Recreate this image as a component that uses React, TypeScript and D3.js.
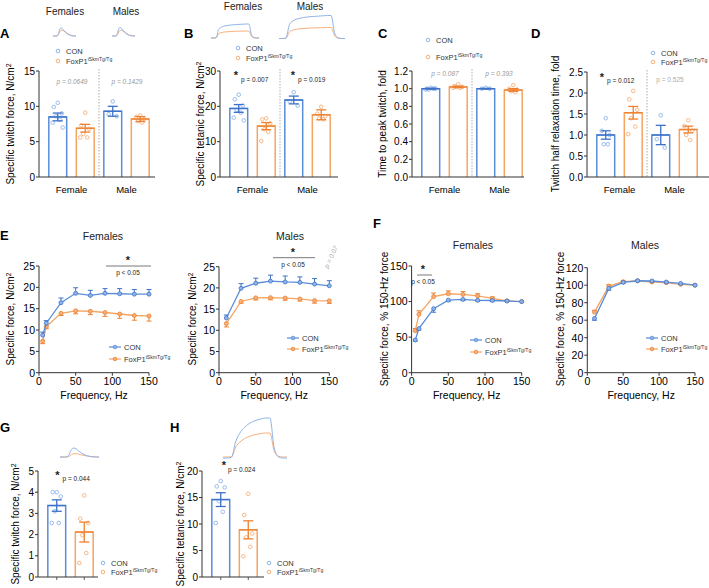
import React from "react";
import * as d3 from "d3";

const FONT = "'Liberation Sans', Arial, sans-serif";
const BLUE = "#5a8dd8";
const BLUE_DARK = "#3d72c8";
const BLUE_LIGHT = "#8fb4ea";
const ORANGE = "#f5a462";
const ORANGE_DARK = "#ee8030";
const ORANGE_LIGHT = "#f6b07a";

// ---------- bar data (order: Female CON, Female FoxP1, Male CON, Male FoxP1)
const groupLabels = ["Female", "Male"];

const aMeans = [8.5, 6.9, 9.3, 8.2];
const aSems = [0.55, 0.55, 0.7, 0.35];
const aPts = [[10.5, 9.9, 9.0, 8.6, 8.1, 7.7, 7.0], [9.1, 7.3, 6.8, 6.1, 5.6, 5.6], [10.7, 8.9, 8.6], [8.7, 8.5, 8.2, 7.9, 7.7]];
const aTicks = [0, 5, 10, 15];

const bMeans = [19.4, 14.4, 21.8, 17.6];
const bSems = [1.1, 1.0, 1.1, 1.4];
const bPts = [[23.3, 22.0, 20.2, 19.0, 18.2, 16.8, 16.0], [16.6, 16.3, 15.2, 13.5, 12.8, 10.2], [24.0, 21.4, 20.2], [19.9, 17.9, 17.2, 16.6, 16.3]];
const bTicks = [0, 10, 20, 30];

const cMeans = [1.0, 1.02, 1.0, 0.985];
const cSems = [0.005, 0.008, 0.004, 0.015];
const cPts = [[1.01, 1.0, 1.0, 0.99, 1.0, 0.99, 1.0], [1.05, 1.03, 1.02, 1.02, 1.01, 1.01], [1.01, 1.0, 1.0], [1.04, 1.0, 0.99, 0.97, 0.96]];
const cTicks = [0, 0.2, 0.4, 0.6, 0.8, 1.0, 1.2];

const dMeans = [1.0, 1.53, 1.0, 1.13];
const dSems = [0.1, 0.15, 0.23, 0.08];
const dPts = [[1.4, 1.1, 1.0, 0.78, 0.78], [2.05, 1.85, 1.6, 1.4, 1.2, 1.02], [1.47, 0.9, 0.7], [1.35, 1.21, 1.1, 1.0, 0.88]];
const dTicks = [0, 0.5, 1.0, 1.5, 2.0, 2.5];

const gMeans = [3.37, 2.12];
const gSems = [0.27, 0.47];
const gPts = [[4.0, 4.0, 3.8, 3.1, 2.55, 2.55], [3.85, 2.75, 2.55, 1.97, 1.13, 0.66]];
const gTicks = [0, 1, 2, 3, 4, 5];

const hMeans = [14.6, 8.9];
const hSems = [1.3, 1.7];
const hPts = [[18.1, 17.1, 16.9, 14.3, 12.3, 10.2], [15.7, 11.7, 8.2, 7.5, 5.7, 3.9]];
const hTicks = [0, 5, 10, 15, 20];

// ---------- force-frequency data
const freqF = [5, 10, 30, 50, 70, 90, 110, 130, 150];
const freqM = [10, 30, 50, 70, 90, 110, 130, 150];

const eFemCon = [8.8, 11.6, 16.4, 18.6, 18.1, 18.6, 18.5, 18.4, 18.4];
const eFemConErr = [0.7, 0.6, 1.1, 1.3, 1.2, 1.1, 1.2, 1.1, 1.1];
const eFemFox = [7.4, 10.8, 13.9, 14.5, 14.4, 14.1, 13.75, 13.4, 13.3];
const eFemFoxErr = [0.6, 0.5, 0.5, 0.7, 0.8, 0.9, 1.0, 1.1, 1.2];
const eMalCon = [12.9, 19.9, 21.1, 21.6, 21.4, 21.3, 20.9, 20.5];
const eMalConErr = [0.7, 1.1, 1.2, 1.4, 1.4, 1.3, 1.3, 1.2];
const eMalFox = [11.6, 16.8, 17.65, 17.7, 17.6, 17.4, 17.0, 16.95];
const eMalFoxErr = [0.8, 0.4, 0.5, 0.5, 0.5, 0.5, 0.6, 0.6];
const eTicks = [0, 5, 10, 15, 20, 25];

const fFemCon = [46, 62, 90, 102, 103, 101.7, 101.5, 100.8, 100];
const fFemConErr = [1.5, 2, 5, 1.5, 1.5, 1, 1, 0.5, 0];
const fFemFox = [59, 82, 107, 111, 110, 108, 104.5, 101, 100];
const fFemFoxErr = [3, 5, 5, 4, 4, 3, 2, 1, 0];
const fMalCon = [62, 96.4, 103.2, 105.1, 104.8, 103.6, 102, 100];
const fMalConErr = [2, 2, 1, 1, 1, 1, 1, 0];
const fMalFox = [69.3, 99, 104, 105, 103.6, 102.9, 101, 100];
const fMalFoxErr = [2, 1.5, 1, 1, 1, 1, 1, 0];
const fTicksF = [0, 50, 100, 150];
const fTicksM = [0, 20, 40, 60, 80, 100, 120];
const freqTicks = [0, 50, 100, 150];

// ---------- representative traces (normalised)
const twitchCon = [0, 0, 0, 0, 0.3, 0.85, 1, 0.9, 0.7, 0.5, 0.35, 0.22, 0.13, 0.07, 0.03, 0.01, 0, 0];
const twitchFox = [0, 0, 0, 0, 0.2, 0.6, 0.8, 0.82, 0.72, 0.58, 0.45, 0.33, 0.22, 0.13, 0.07, 0.03, 0.01, 0];
const tetanic = [0, 0, 0.02, 0.6, 0.76, 0.84, 0.88, 0.91, 0.93, 0.95, 0.96, 0.97, 0.98, 0.99, 1.0, 1.0, 0.25, 0.03, 0, 0];
const tetanicH = [0, 0, 0.02, 0.42, 0.63, 0.76, 0.85, 0.91, 0.95, 0.98, 1.0, 1.0, 0.25, 0.03, 0, 0];

const jitter = [0, -4, 4, -2, 2, -5, 5];

function Trace({ x0, x1, base, shape, amp, color }: any) {
  const x = d3.scaleLinear().domain([0, shape.length - 1]).range([x0, x1]);
  const line = d3.line<number>().x((_, i) => x(i)).y((d) => base - d * amp).curve(d3.curveMonotoneX);
  return <path d={line(shape) || ""} fill="none" stroke={color} strokeWidth={1} />;
}

function YLabel({ x, y, children, size = 10 }: any) {
  return (
    <text transform={`translate(${x},${y}) rotate(-90)`} textAnchor="middle" dy="0.35em" fontSize={size} fontFamily={FONT}>
      {children}
    </text>
  );
}

function Fox({ x, y, size = 7.5, anchor = "start" }: any) {
  return (
    <text x={x} y={y} fontSize={size} fontFamily={FONT} textAnchor={anchor} fill="#333">
      FoxP1<tspan fontSize={size * 0.68} dy={-size * 0.4}>iSkmTg/Tg</tspan>
    </text>
  );
}

function BarLegend({ x, y1, y2 }: any) {
  return (
    <g>
      <circle cx={x} cy={y1} r={1.8} fill="none" stroke={BLUE_LIGHT} strokeWidth={1} />
      <text x={x + 8} y={y1 + 2.6} fontSize={7.5} fontFamily={FONT} fill="#333">CON</text>
      <circle cx={x} cy={y2} r={1.8} fill="none" stroke={ORANGE_LIGHT} strokeWidth={1} />
      <Fox x={x + 8} y={y2 + 2.6} />
    </g>
  );
}

function LineLegend({ x, y1, y2 }: any) {
  return (
    <g>
      <line x1={x - 6} x2={x + 6} y1={y1} y2={y1} stroke={BLUE} strokeWidth={1.2} />
      <circle cx={x} cy={y1} r={1.8} fill={BLUE_LIGHT} stroke={BLUE} strokeWidth={0.8} />
      <text x={x + 9} y={y1 + 2.6} fontSize={7.5} fontFamily={FONT} fill="#333">CON</text>
      <line x1={x - 6} x2={x + 6} y1={y2} y2={y2} stroke={ORANGE} strokeWidth={1.2} />
      <circle cx={x} cy={y2} r={1.8} fill={ORANGE_LIGHT} stroke={ORANGE_DARK} strokeWidth={0.8} />
      <Fox x={x + 9} y={y2 + 2.6} />
    </g>
  );
}

function BarPanel({ ax, yTop, yBot, max, ticks, fmt, means, sems, pts, xEnd, showGroups, barTicks }: any) {
  const y = d3.scaleLinear().domain([0, max]).range([yBot, yTop]);
  const nGroups = means.length / 2;
  const outer = d3.scaleBand<number>().domain(d3.range(nGroups)).range([ax + 5, ax + 5 + 55 * nGroups]);
  const inner = d3.scaleBand<number>().domain([0, 1]).range([0, outer.bandwidth()]).paddingInner(0.35).paddingOuter(0.175);
  const bw = inner.bandwidth();
  const f = d3.format(fmt);
  return (
    <g fontFamily={FONT}>
      {means.map((m: number, i: number) => {
        const g = Math.floor(i / 2);
        const k = i % 2;
        const x0 = (outer(g) as number) + (inner(k) as number);
        const cx = x0 + bw / 2;
        const col = k === 0 ? BLUE : ORANGE;
        const dark = k === 0 ? BLUE_DARK : ORANGE_DARK;
        const light = k === 0 ? BLUE_LIGHT : ORANGE_LIGHT;
        return (
          <g key={i}>
            <path d={`M${x0},${yBot}V${y(m)}H${x0 + bw}V${yBot}`} fill="none" stroke={col} strokeWidth={1.5} />
            {pts[i].map((p: number, j: number) => (
              <circle key={j} cx={cx + jitter[j % jitter.length]} cy={y(p)} r={1.8} fill="none" stroke={light} strokeWidth={0.9} />
            ))}
            <line x1={cx} x2={cx} y1={y(m - sems[i])} y2={y(m + sems[i])} stroke={dark} strokeWidth={1.3} />
            <line x1={cx - 5} x2={cx + 5} y1={y(m + sems[i])} y2={y(m + sems[i])} stroke={dark} strokeWidth={1.3} />
            <line x1={cx - 5} x2={cx + 5} y1={y(m - sems[i])} y2={y(m - sems[i])} stroke={dark} strokeWidth={1.3} />
            <line x1={cx - bw / 2} x2={cx + bw / 2} y1={y(m)} y2={y(m)} stroke={dark} strokeWidth={1.3} />
            {barTicks && <line x1={cx} x2={cx} y1={yBot} y2={yBot + 3} stroke="#333" strokeWidth={0.8} />}
          </g>
        );
      })}
      {nGroups > 1 && (
        <line x1={ax + 60} x2={ax + 60} y1={yTop - 2} y2={yBot} stroke="#999" strokeWidth={0.8} strokeDasharray="1.5,1.5" />
      )}
      <line x1={ax} x2={ax} y1={yTop} y2={yBot} stroke="#333" strokeWidth={1} />
      <line x1={ax} x2={xEnd} y1={yBot} y2={yBot} stroke="#333" strokeWidth={1} />
      {ticks.map((t: number) => (
        <g key={t}>
          <line x1={ax - 3} x2={ax} y1={y(t)} y2={y(t)} stroke="#333" strokeWidth={1} />
          <text x={ax - 4} y={y(t) + 3.6} textAnchor="end" fontSize={10}>{f(t)}</text>
        </g>
      ))}
      {showGroups &&
        groupLabels.map((gl, g) => (
          <text key={gl} x={(outer(g) as number) + outer.bandwidth() / 2} y={yBot + 16} textAnchor="middle" fontSize={9.5}>{gl}</text>
        ))}
    </g>
  );
}

function LinePanel({ ax, x150, yTop, yBot, max, ticks, freq, con, conErr, fox, foxErr, conDir, foxDir }: any) {
  const x = d3.scaleLinear().domain([0, 150]).range([ax, x150]);
  const y = d3.scaleLinear().domain([0, max]).range([yBot, yTop]);
  const line = d3.line<number>().x((_, i) => x(freq[i])).y((d) => y(d));
  const series = [
    { v: fox, e: foxErr, dir: foxDir, col: ORANGE, dark: ORANGE_DARK, light: ORANGE_LIGHT },
    { v: con, e: conErr, dir: conDir, col: BLUE, dark: BLUE_DARK, light: BLUE_LIGHT },
  ];
  return (
    <g fontFamily={FONT}>
      <line x1={ax} x2={ax} y1={yTop} y2={yBot} stroke="#333" strokeWidth={1} />
      <line x1={ax} x2={x150} y1={yBot} y2={yBot} stroke="#333" strokeWidth={1} />
      {ticks.map((t: number) => (
        <g key={t}>
          <line x1={ax - 3} x2={ax} y1={y(t)} y2={y(t)} stroke="#333" />
          <text x={ax - 4} y={y(t) + 3.8} textAnchor="end" fontSize={10.5}>{t}</text>
        </g>
      ))}
      {freqTicks.map((t) => (
        <g key={t}>
          <line x1={x(t)} x2={x(t)} y1={yBot} y2={yBot + 3} stroke="#333" />
          <text x={x(t)} y={yBot + 12} textAnchor="middle" fontSize={10.5}>{t}</text>
        </g>
      ))}
      <text x={(ax + x150) / 2} y={yBot + 26} textAnchor="middle" fontSize={10.5}>Frequency, Hz</text>
      {series.map((s, k) => (
        <g key={k}>
          {s.v.map((v: number, i: number) => {
            const ye = y(v + s.dir * s.e[i]);
            return s.e[i] > 0 ? (
              <g key={i}>
                <line x1={x(freq[i])} x2={x(freq[i])} y1={y(v)} y2={ye} stroke={s.dark} strokeWidth={1} />
                <line x1={x(freq[i]) - 2.5} x2={x(freq[i]) + 2.5} y1={ye} y2={ye} stroke={s.dark} strokeWidth={1} />
              </g>
            ) : null;
          })}
          <path d={line(s.v) || ""} fill="none" stroke={s.col} strokeWidth={1.3} />
          {s.v.map((v: number, i: number) => (
            <circle key={i} cx={x(freq[i])} cy={y(v)} r={2} fill={s.light} stroke={s.dark} strokeWidth={0.8} />
          ))}
        </g>
      ))}
    </g>
  );
}

function Letter({ x, y, children }: any) {
  return <text x={x} y={y} fontSize={13} fontWeight="bold" fontFamily={FONT}>{children}</text>;
}

function Txt({ x, y, children, size = 10, anchor = "middle", italic = false, fill = "#222", weight = "normal" }: any) {
  return (
    <text x={x} y={y} fontSize={size} textAnchor={anchor} fontStyle={italic ? "italic" : "normal"} fill={fill} fontWeight={weight} fontFamily={FONT}>
      {children}
    </text>
  );
}

function Star({ x, y }: any) {
  return <Txt x={x} y={y} size={11} weight="bold">*</Txt>;
}

export default function App() {
  const cm2 = (label: string) => (
    <>
      {label}, N/cm<tspan dy="-0.4em" fontSize={7}>2</tspan>
    </>
  );
  return (
    <svg width={709} height={588} style={{ position: "absolute", left: 0, top: 0, background: "#fff" }}>
      <rect width={709} height={588} fill="#fff" />
      {/* ---------- A ---------- */}
      <Letter x={0} y={38}>A</Letter>
      <Txt x={65} y={14.5}>Females</Txt>
      <Txt x={126} y={14.5}>Males</Txt>
      <Trace x0={53} x1={76} base={36} shape={twitchFox} amp={7} color={ORANGE_LIGHT} />
      <Trace x0={53} x1={76} base={36} shape={twitchCon} amp={8} color={BLUE_LIGHT} />
      <Trace x0={112} x1={135} base={36} shape={twitchFox} amp={7} color={ORANGE_LIGHT} />
      <Trace x0={112} x1={135} base={36} shape={twitchCon} amp={8.5} color={BLUE_LIGHT} />
      <BarLegend x={58} y1={51} y2={61} />
      <BarPanel ax={39} yTop={71} yBot={177} max={15} ticks={aTicks} fmt="d" means={aMeans} sems={aSems} pts={aPts} xEnd={155} showGroups />
      <Txt x={72} y={84} size={6.5} italic fill="#999">p = 0.0649</Txt>
      <Txt x={127} y={84} size={6.5} italic fill="#999">p = 0.1429</Txt>
      <YLabel x={10} y={124}>{cm2("Specific twitch force")}</YLabel>

      {/* ---------- B ---------- */}
      <Letter x={184} y={38}>B</Letter>
      <Txt x={243} y={9.5}>Females</Txt>
      <Txt x={310} y={9.5}>Males</Txt>
      <Trace x0={211} x1={259} base={38} shape={tetanic} amp={7} color={ORANGE_LIGHT} />
      <Trace x0={211} x1={259} base={38} shape={tetanic} amp={14} color={BLUE_LIGHT} />
      <Trace x0={279} x1={345} base={38.5} shape={tetanic} amp={11} color={ORANGE_LIGHT} />
      <Trace x0={279} x1={345} base={38.5} shape={tetanic} amp={23} color={BLUE_LIGHT} />
      <BarLegend x={238} y1={48} y2={58} />
      <BarPanel ax={220} yTop={71} yBot={177} max={30} ticks={bTicks} fmt="d" means={bMeans} sems={bSems} pts={bPts} xEnd={338} showGroups />
      <Star x={236} y={79} />
      <Txt x={241} y={81.5} size={6.5} anchor="start">p = 0.007</Txt>
      <Star x={293} y={79} />
      <Txt x={298} y={81.5} size={6.5} anchor="start">p = 0.019</Txt>
      <YLabel x={200} y={124}>{cm2("Specific tetanic force")}</YLabel>

      {/* ---------- C ---------- */}
      <Letter x={378} y={38}>C</Letter>
      <BarLegend x={428} y1={40} y2={57} />
      <BarPanel ax={412} yTop={71} yBot={177} max={1.2} ticks={cTicks} fmt=".1f" means={cMeans} sems={cSems} pts={cPts} xEnd={524} showGroups />
      <Txt x={445} y={75.5} size={6.5} italic fill="#999">p = 0.087</Txt>
      <Txt x={499} y={75.5} size={6.5} italic fill="#999">p = 0.393</Txt>
      <YLabel x={382} y={124}>Time to peak twitch, fold</YLabel>

      {/* ---------- D ---------- */}
      <Letter x={531} y={38}>D</Letter>
      <BarLegend x={653} y1={53} y2={62} />
      <BarPanel ax={587} yTop={72} yBot={177} max={2.5} ticks={dTicks} fmt=".1f" means={dMeans} sems={dSems} pts={dPts} xEnd={709} showGroups />
      <Star x={602} y={81} />
      <Txt x={607} y={82.5} size={6.5} anchor="start">p = 0.012</Txt>
      <Txt x={670} y={81.5} size={6.5} fill="#aaa">p = 0.525</Txt>
      <YLabel x={555} y={124}>Twitch half relaxation time, fold</YLabel>

      {/* ---------- E ---------- */}
      <Letter x={0} y={240}>E</Letter>
      <Txt x={103} y={240} size={10.5}>Females</Txt>
      <Txt x={290} y={240} size={10.5}>Males</Txt>
      <LinePanel ax={39} x150={149} yTop={266} yBot={372.7} max={25} ticks={eTicks} freq={freqF}
        con={eFemCon} conErr={eFemConErr} fox={eFemFox} foxErr={eFemFoxErr} conDir={1} foxDir={-1} />
      <LineLegend x={115} y1={347} y2={359} />
      <Star x={128} y={264} />
      <line x1={106} x2={151} y1={266} y2={266} stroke="#555" strokeWidth={0.8} />
      <Txt x={128} y={275} size={6.5}>p &lt; 0.05</Txt>
      <YLabel x={10} y={319}>{cm2("Specific force")}</YLabel>

      <LinePanel ax={219} x150={329.3} yTop={266.7} yBot={372.7} max={25} ticks={eTicks} freq={freqM}
        con={eMalCon} conErr={eMalConErr} fox={eMalFox} foxErr={eMalFoxErr} conDir={1} foxDir={-1} />
      <LineLegend x={293} y1={338} y2={349} />
      <Star x={293} y={256} />
      <line x1={273} x2={315} y1={257.7} y2={257.7} stroke="#555" strokeWidth={0.8} />
      <Txt x={293} y={266.5} size={6.5}>p &lt; 0.05</Txt>
      <text transform="translate(333,258) rotate(-65)" textAnchor="middle" fontSize={6.5} fontStyle="italic" fill="#aaa" fontFamily={FONT}>p = 0.07</text>
      <YLabel x={192} y={319}>{cm2("Specific force")}</YLabel>

      {/* ---------- F ---------- */}
      <Letter x={373} y={228}>F</Letter>
      <Txt x={473} y={249} size={10.5}>Females</Txt>
      <Txt x={645} y={249} size={10.5}>Males</Txt>
      <LinePanel ax={411.6} x150={521.7} yTop={266} yBot={372.7} max={150} ticks={fTicksF} freq={freqF}
        con={fFemCon} conErr={fFemConErr} fox={fFemFox} foxErr={fFemFoxErr} conDir={-1} foxDir={1} />
      <LineLegend x={476} y1={340} y2={352} />
      <Star x={423} y={273} />
      <line x1={417} x2={432} y1={275} y2={275} stroke="#555" strokeWidth={0.8} />
      <Txt x={423} y={284} size={6.5}>p &lt; 0.05</Txt>
      <YLabel x={384} y={319}>Specific force, % 150-Hz force</YLabel>

      <LinePanel ax={587.3} x150={695} yTop={267.7} yBot={372.7} max={120} ticks={fTicksM} freq={freqM}
        con={fMalCon} conErr={fMalConErr} fox={fMalFox} foxErr={fMalFoxErr} conDir={-1} foxDir={1} />
      <LineLegend x={652} y1={338} y2={349} />
      <YLabel x={560} y={319}>Specific force, % 150-Hz force</YLabel>

      {/* ---------- G ---------- */}
      <Letter x={0} y={432}>G</Letter>
      <Trace x0={60} x1={99} base={457} shape={twitchFox} amp={4} color={ORANGE_LIGHT} />
      <Trace x0={60} x1={99} base={457} shape={twitchCon} amp={9} color={BLUE_LIGHT} />
      <BarPanel ax={38} yTop={471} yBot={577} max={5} ticks={gTicks} fmt="d" means={gMeans} sems={gSems} pts={gPts} xEnd={98} barTicks />
      <Star x={57.5} y={479} />
      <Txt x={62.5} y={480.5} size={6.5} anchor="start">p = 0.044</Txt>
      <BarLegend x={103} y1={563} y2={572} />
      <YLabel x={15} y={524}>{cm2("Specific twitch force")}</YLabel>

      {/* ---------- H ---------- */}
      <Letter x={170} y={432}>H</Letter>
      <Trace x0={223} x1={287} base={457} shape={tetanicH} amp={24} color={ORANGE_LIGHT} />
      <Trace x0={223} x1={287} base={458} shape={tetanicH} amp={40} color={BLUE_LIGHT} />
      <BarPanel ax={202} yTop={471} yBot={577} max={20} ticks={hTicks} fmt="d" means={hMeans} sems={hSems} pts={hPts} xEnd={264} barTicks />
      <Star x={224} y={469} />
      <Txt x={228} y={471.5} size={6.5} anchor="start">p = 0.024</Txt>
      <BarLegend x={269} y1={563} y2={572} />
      <YLabel x={180} y={524}>{cm2("Specific tetanic force")}</YLabel>
    </svg>
  );
}
